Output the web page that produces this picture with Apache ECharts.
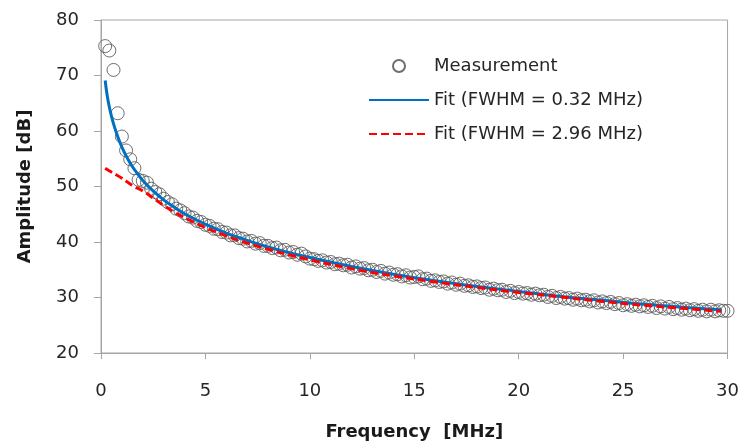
<!DOCTYPE html>
<html>
<head>
<meta charset="utf-8">
<script src="https://cdn.jsdelivr.net/npm/echarts@6/dist/echarts.min.js"></script>
<style>
html,body{margin:0;padding:0;background:#fff;}
#chart{width:742px;height:446px;}
</style>
</head>
<body>
<div id="chart"></div>
<script>
// Measurement points [frequency MHz, amplitude dB]
var measurement = [
[0.2,75.3],[0.4,74.5],[0.6,71.0],[0.8,63.2],[1.0,59.0],[1.2,56.5],[1.4,54.9],[1.6,53.3],[1.8,51.2],[2.0,51.0],
[2.2,50.7],[2.4,49.6],[2.6,49.0],[2.8,48.6],[3.0,47.8],[3.2,47.2],[3.4,46.8],[3.6,46.0],[3.8,45.7],[4.0,45.2],
[4.2,44.6],[4.4,44.4],[4.6,43.8],[4.8,43.6],[5.0,43.1],[5.2,42.9],[5.4,42.4],[5.6,42.3],[5.8,41.8],[6.0,41.7],
[6.2,41.2],[6.4,41.2],[6.6,40.7],[6.8,40.6],[7.0,40.1],[7.2,40.2],[7.4,39.7],[7.6,39.8],[7.8,39.3],[8.0,39.3],
[8.2,38.9],[8.4,39.0],[8.6,38.5],[8.8,38.6],[9.0,38.1],[9.2,38.2],[9.4,37.7],[9.6,37.9],[9.8,37.4],[10.0,37.0],
[10.2,36.9],[10.4,36.6],[10.6,36.7],[10.8,36.3],[11.0,36.4],[11.2,36.0],[11.4,36.1],[11.6,35.8],[11.8,35.9],[12.0,35.4],
[12.2,35.6],[12.4,35.2],[12.6,35.3],[12.8,34.9],[13.0,35.0],[13.2,34.6],[13.4,34.8],[13.6,34.3],[13.8,34.5],[14.0,34.1],
[14.2,34.2],[14.4,33.8],[14.6,34.0],[14.8,33.6],[15.0,33.7],[15.2,33.8],[15.4,33.3],[15.6,33.4],[15.8,33.0],[16.0,33.1],
[16.2,32.8],[16.4,32.9],[16.6,32.5],[16.8,32.7],[17.0,32.3],[17.2,32.5],[17.4,32.1],[17.6,32.2],[17.8,31.9],[18.0,32.0],
[18.2,31.7],[18.4,31.8],[18.6,31.4],[18.8,31.6],[19.0,31.3],[19.2,31.4],[19.4,31.0],[19.6,31.2],[19.8,30.8],[20.0,31.0],
[20.2,30.7],[20.4,30.8],[20.6,30.5],[20.8,30.7],[21.0,30.4],[21.2,30.5],[21.4,30.1],[21.6,30.3],[21.8,29.9],[22.0,30.1],
[22.2,29.8],[22.4,29.9],[22.6,29.6],[22.8,29.8],[23.0,29.5],[23.2,29.6],[23.4,29.3],[23.6,29.5],[23.8,29.1],[24.0,29.3],
[24.2,29.0],[24.4,29.2],[24.6,28.8],[24.8,29.0],[25.0,28.6],[25.2,28.8],[25.4,28.5],[25.6,28.7],[25.8,28.4],[26.0,28.6],
[26.2,28.3],[26.4,28.5],[26.6,28.1],[26.8,28.4],[27.0,28.0],[27.2,28.3],[27.4,27.9],[27.6,28.1],[27.8,27.8],[28.0,28.0],
[28.2,27.7],[28.4,27.9],[28.6,27.6],[28.8,27.8],[29.0,27.5],[29.2,27.8],[29.4,27.5],[29.6,27.7],[29.8,27.6],[30.0,27.6]
];
// Fit, FWHM = 0.32 MHz
var fitNarrow = [
[0.2,69.1],[0.3,66.3],[0.4,64.3],[0.5,62.7],[0.6,61.3],[0.8,59.0],[1.0,57.1],[1.25,55.2],[1.5,53.6],[1.75,52.3],
[2.0,51.1],[2.5,49.2],[3.0,47.6],[3.5,46.3],[4.0,45.1],[5.0,43.2],[6.0,41.6],[7.0,40.3],[8.0,39.1],[9.0,38.1],
[10,37.2],[12,35.6],[14,34.2],[16,33.0],[18,32.0],[20,31.1],[22,30.2],[24,29.5],[26,28.8],[28,28.2],[29.7,27.8]
];
// Fit, FWHM = 2.96 MHz
var fitWide = [
[0.2,53.3],[0.5,52.6],[1.0,51.5],[1.5,50.2],[2.0,49.2],[2.5,47.9],[3.0,46.6],[3.5,45.4],[4.0,44.4],[5.0,42.6],
[6.0,41.1],[7.0,39.8],[8.0,38.7],[9.0,37.7],[10,36.8],[12,35.2],[14,33.9],[16,32.8],[18,31.8],[20,30.9],
[22,30.1],[24,29.3],[26,28.6],[28,28.0],[29.7,27.5]
];
var seriesNames = ['Measurement', 'Fit (FWHM = 0.32 MHz)', 'Fit (FWHM = 2.96 MHz)'];
var xTitle = 'Frequency  [MHz]';
var yTitle = 'Amplitude [dB]';

var chart = echarts.init(document.getElementById('chart'), null, {renderer: 'canvas'});
var font = 'DejaVu Sans';
chart.setOption({
  animation: false,
  backgroundColor: '#ffffff',
  grid: {left: 101, right: 14, top: 20, bottom: 91, show: true, borderColor: '#a6a6a6', borderWidth: 1, containLabel: false},
  legend: {
    orient: 'vertical', left: 368, top: 56, padding: 0,
    itemWidth: 60, itemHeight: 12, itemGap: 14,
    data: [
      {name: seriesNames[0]},
      {name: seriesNames[1], itemStyle: {opacity: 0, color: 'rgba(0,0,0,0)', borderWidth: 0}},
      {name: seriesNames[2], itemStyle: {opacity: 0, color: 'rgba(0,0,0,0)', borderWidth: 0}}
    ],
    textStyle: {fontFamily: font, fontSize: 18, color: '#262626', lineHeight: 20}
  },
  xAxis: {
    type: 'value', min: 0, max: 30, interval: 5,
    name: xTitle, nameLocation: 'middle', nameGap: 70,
    nameTextStyle: {fontFamily: font, fontSize: 18, fontWeight: 'bold', color: '#1a1a1a'},
    axisLine: {show: true, onZero: false, lineStyle: {color: '#a6a6a6', width: 1}},
    axisTick: {show: true, length: 6, inside: false, lineStyle: {color: '#a6a6a6'}},
    axisLabel: {fontFamily: font, fontSize: 18, color: '#262626', margin: 29},
    splitLine: {show: false}
  },
  yAxis: {
    type: 'value', min: 20, max: 80, interval: 10,
    name: yTitle, nameLocation: 'middle', nameGap: 67,
    nameTextStyle: {fontFamily: font, fontSize: 18, fontWeight: 'bold', color: '#1a1a1a'},
    axisLine: {show: true, lineStyle: {color: '#a6a6a6', width: 1}},
    axisTick: {show: true, length: 7, inside: false, lineStyle: {color: '#a6a6a6'}},
    axisLabel: {fontFamily: font, fontSize: 18, color: '#262626', margin: 22},
    splitLine: {show: false}
  },
  series: [
    {
      name: seriesNames[0], type: 'scatter', data: measurement,
      symbol: 'circle', symbolSize: 13,
      itemStyle: {color: 'rgba(255,255,255,0)', borderColor: '#5e5e5e', borderWidth: 1, opacity: 0.9},
      z: 1
    },
    {
      name: seriesNames[1], type: 'line', data: fitNarrow, smooth: true,
      symbol: 'none', showSymbol: false,
      lineStyle: {color: '#0070C0', width: 3},
      itemStyle: {color: '#0070C0'},
      z: 2
    },
    {
      name: seriesNames[2], type: 'line', data: fitWide, smooth: true,
      symbol: 'none', showSymbol: false,
      lineStyle: {color: '#FF0000', width: 3, type: [8, 4]},
      itemStyle: {color: '#FF0000'},
      z: 3
    }
  ]
});
</script>
</body>
</html>
